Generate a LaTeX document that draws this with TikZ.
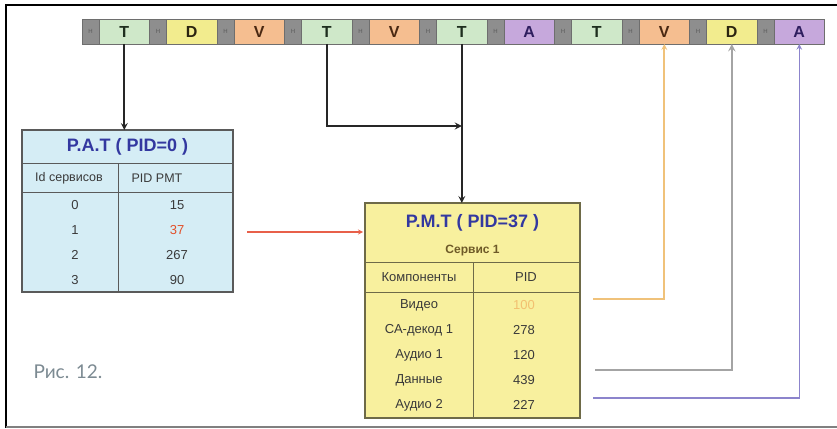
\documentclass[tikz,border=0pt]{standalone}
\usepackage{fontspec}
\setmainfont{Liberation Sans}
\newfontfamily\capfont{Lato}
\usetikzlibrary{calc}
\usepackage{xcolor}

\definecolor{hgrey}{HTML}{8E8E8E}
\definecolor{hline}{HTML}{6E6E6E}
\definecolor{hletter}{HTML}{5A5A5A}
\definecolor{tgreen}{HTML}{CFE8C9}
\definecolor{dyellow}{HTML}{F2EC8E}
\definecolor{vorange}{HTML}{F5BE90}
\definecolor{aviolet}{HTML}{C6A8DC}
\definecolor{tdark}{HTML}{1E2E1E}
\definecolor{ddark}{HTML}{2B2410}
\definecolor{vdark}{HTML}{4A2812}
\definecolor{adark}{HTML}{2E1E5E}
\definecolor{patfill}{HTML}{D5EDF5}
\definecolor{pmtfill}{HTML}{F8F09E}
\definecolor{tabline}{HTML}{5A5A5A}
\definecolor{pmtline}{HTML}{6E6A48}
\definecolor{titleblue}{HTML}{3338A0}
\definecolor{servbrown}{HTML}{6E5A28}
\definecolor{tabtext}{HTML}{3A3A3A}
\definecolor{pidred}{HTML}{E2502A}
\definecolor{pidorange}{HTML}{F2C070}
\definecolor{redline}{HTML}{E8604A}
\definecolor{orangeline}{HTML}{F0C27A}
\definecolor{greyline}{HTML}{A4A4A4}
\definecolor{violetline}{HTML}{8C84CC}
\definecolor{capgrey}{HTML}{7C8A92}

\begin{document}
\begin{tikzpicture}[x=1pt,y=-1pt,
 hcell/.style={draw=hline,fill=hgrey,inner sep=0,outer sep=0,minimum width=17pt,minimum height=25pt,font=\fontsize{6}{6}\selectfont,text=hletter},
 dcell/.style={draw=hline,inner sep=0,outer sep=0,minimum width=50.5pt,minimum height=25pt,font=\fontsize{16}{16}\selectfont\bfseries},
 patbox/.style={draw=tabline,fill=patfill,line width=1.4pt,inner sep=0,outer sep=0},
 pmtbox/.style={draw=pmtline,fill=pmtfill,line width=1.4pt,inner sep=0,outer sep=0},
 ttl/.style={font=\fontsize{18}{18}\selectfont\bfseries,text=titleblue,inner sep=0},
 cell/.style={font=\fontsize{13}{13}\selectfont,text=tabtext,inner sep=0},
 blackarr/.style={-stealth,line width=2pt,black!85},
 redarr/.style={-stealth,line width=1.2pt,redline},
 orangearr/.style={-stealth,line width=1.6pt,orangeline},
 greyarr/.style={-stealth,line width=2.2pt,greyline},
 violetarr/.style={-stealth,line width=1.5pt,violetline}]
 \useasboundingbox (0,0) rectangle (837,428);
 % frame
 \draw[line width=2.5pt] (837,5) -- (6,5) -- (6,428);
 \draw[gray,line width=1.2pt] (6,427) -- (837,427);
 % packet stream
 \foreach \L/\C/\T [count=\i from 0] in {T/tgreen/tdark,D/dyellow/ddark,V/vorange/vdark,T/tgreen/tdark,V/vorange/vdark,T/tgreen/tdark,A/aviolet/adark,T/tgreen/tdark,V/vorange/vdark,D/dyellow/ddark,A/aviolet/adark}
 {\pgfmathsetmacro{\X}{82+67.5*\i}
  \node[hcell] (h\i) at (\X+8.5,31.5) {H};
  \node[dcell,fill=\C,text=\T] (c\i) at (\X+42.25,31.5) {\L};
 }
 %
 \begin{scope}
 \node[patbox,minimum width=211pt,minimum height=162pt] (pat) at (127.5,211) {};
 \draw[tabline] (22,163) -- (233,163) (22,192) -- (233,192) (118,163) -- (118,292);
 \node[ttl] (pattitle) at (127.5,147) {P.A.T ( PID=0 )};
 \node[cell,font=\fontsize{12.5}{12.5}\selectfont] (patid) at (69,178) {Id сервисов};
 \node[cell,font=\fontsize{12.5}{12.5}\selectfont] (patpid) at (157,178) {PID PMT};
 \foreach \N/\P/\C [count=\i from 0] in {0/15/tabtext,1/37/pidred,2/267/tabtext,3/90/tabtext}
 {\node[cell] (pn\i) at (75,{205+25*\i}) {\N};
  \node[cell,text=\C] (pp\i) at (177,{205+25*\i}) {\P};
 }
 \end{scope}
 %
 \begin{scope}
 \node[pmtbox,minimum width=215pt,minimum height=215pt] (pmt) at (472.5,310.5) {};
 \draw[pmtline] (365,262) -- (580,262) (365,292) -- (580,292) (473,262) -- (473,418);
 \node[ttl] (pmttitle) at (472.5,223) {P.M.T ( PID=37 )};
 \node[cell,font=\fontsize{12}{12}\selectfont\bfseries,text=servbrown] (serv) at (472.5,251) {Сервис 1};
 \node[cell] (pmtcomp) at (419,277) {Компоненты};
 \node[cell] (pmtpid) at (526,277) {PID};
 \foreach \N/\P/\C [count=\i from 0] in {Видео/100/pidorange,СА-декод 1/278/tabtext,Аудио 1/120/tabtext,Данные/439/tabtext,Аудио 2/227/tabtext}
 {\node[cell] (mn\i) at (419,{305+25*\i}) {\N};
  \node[cell,text=\C] (mp\i) at (524,{305+25*\i}) {\P};
 }
 \end{scope}
 %
 \draw[blackarr] (c0.south) -- (c0.south |- pat.north);
 \coordinate (knee) at (c5.south |- 0,126);
 \draw[blackarr] (c3.south) |- (knee);
 \draw[blackarr] (c5.south) -- (c5.south |- pmt.north);
 \coordinate (r0) at (247,232);
 \draw[redarr] (r0) -- ([xshift=-2pt]r0 -| pmt.west);
 \coordinate (o0) at (593,299);
 \coordinate (g0) at (595,370);
 \coordinate (v0) at (593,398);
 \draw[orangearr] (o0) -| (c8.south);
 \draw[greyarr] (g0) -| (c9.south);
 \draw[violetarr] (v0) -| (c10.south);
 %
 \node[anchor=west,font=\capfont\fontsize{19}{19}\selectfont,text=capgrey] (fig) at (30,372) {Рис. 12.};
\end{tikzpicture}
\end{document}
